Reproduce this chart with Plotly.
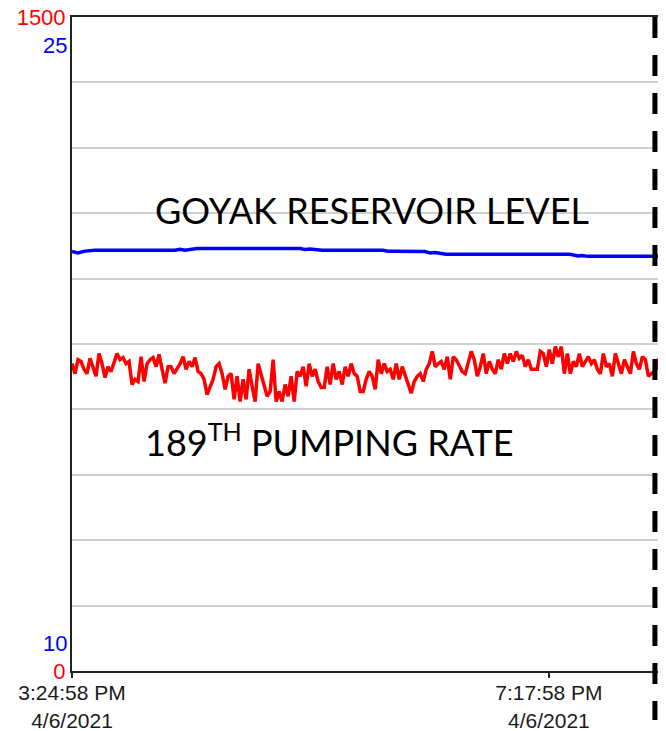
import pandas as pd
import plotly.graph_objects as go

# ---------------- data ----------------
# 189th pumping rate (left red axis, 0-1500), sampled every 88 s from 3:24:58 PM
pump_rate = [
    705, 682, 714, 710, 692, 682, 717, 698, 676, 728,
    705, 673, 698, 687, 705, 728, 714, 719, 705, 710,
    657, 669, 664, 721, 664, 705, 714, 719, 698, 726,
    692, 660, 698, 698, 682, 692, 705, 721, 692, 710,
    698, 719, 687, 682, 669, 634, 653, 669, 698, 705,
    682, 646, 676, 682, 623, 676, 618, 669, 623, 692,
    653, 618, 705, 682, 660, 630, 641, 714, 618, 641,
    618, 657, 630, 676, 618, 687, 676, 698, 653, 705,
    676, 692, 664, 650, 650, 698, 657, 705, 669, 687,
    657, 698, 676, 705, 682, 676, 641,
    641, 669, 687, 676, 646, 714, 682, 705, 687, 692,
    669, 705, 669, 698, 676, 653, 637, 664, 676, 682,
    664, 692, 705, 733, 698, 705, 710, 692, 721, 669,
    721, 714, 698, 687, 682, 705, 733, 714, 676, 698,
    728, 682, 710, 692, 682, 714, 692, 728, 705,
    728, 710, 733, 717, 724, 698, 714, 692, 692, 692,
    733, 728, 698, 737, 705, 744, 721, 744, 682, 728,
    682, 710, 698, 728, 698, 710, 721, 705, 714, 692,
    682, 728, 698, 705, 676, 728, 705, 682, 714, 698,
    682, 733, 705, 692, 721, 714, 676, 682, 687, 698,
    728, 705, 698,
]
pump_start = "2021-04-06 15:24:58"

# Goyak reservoir level (blue axis, 10-25)
level_times = [
    "2021-04-06 15:24:58", "2021-04-06 15:27:52", "2021-04-06 15:31:19",
    "2021-04-06 15:36:10", "2021-04-06 16:15:16", "2021-04-06 16:17:46",
    "2021-04-06 16:20:10", "2021-04-06 16:22:34", "2021-04-06 16:26:04",
    "2021-04-06 17:16:22", "2021-04-06 17:18:46", "2021-04-06 17:21:16",
    "2021-04-06 17:23:40", "2021-04-06 17:27:04", "2021-04-06 17:56:52",
    "2021-04-06 17:59:22", "2021-04-06 18:02:46", "2021-04-06 18:17:22",
    "2021-04-06 18:19:52", "2021-04-06 18:22:16", "2021-04-06 18:24:46",
    "2021-04-06 18:27:40", "2021-04-06 19:28:16", "2021-04-06 19:30:40",
    "2021-04-06 19:32:10", "2021-04-06 19:34:04", "2021-04-06 19:37:04",
    "2021-04-06 20:15:10",
]
level_values = [
    19.62, 19.59, 19.63, 19.65, 19.65, 19.67, 19.65, 19.66, 19.69,
    19.69, 19.67, 19.68, 19.66, 19.65, 19.65, 19.63, 19.63, 19.62,
    19.59, 19.60, 19.58, 19.56, 19.56, 19.53, 19.52, 19.53, 19.51,
    19.51,
]

x_range = ["2021-04-06 15:24:58", "2021-04-06 20:11:16"]
x_tick_vals = ["2021-04-06 15:24:58", "2021-04-06 19:17:58"]
x_tick_text = ["3:24:58 PM<br>4/6/2021", "7:17:58 PM<br>4/6/2021"]

rate_tick_vals = [0, 1500]
rate_tick_text = ["0", "1500"]
rate_grid_step = 150
rate_range = [0, 1500]
level_range = [10, 25]
level_tick_labels = ["25", "10"]

marker_time = "2021-04-06 20:09:46"

label_level = "GOYAK RESERVOIR LEVEL"
label_pump = "189<sup>TH</sup> PUMPING RATE"

# ---------------- figure ----------------
# page body adds an 8px margin; the figure is offset accordingly
FIG_W, FIG_H = 650, 723
M_L, M_R, M_T, M_B = 64, 0, 9, 60
plot_w = FIG_W - M_L - M_R
plot_h = FIG_H - M_T - M_B

pump_times = pd.date_range(pump_start, periods=len(pump_rate), freq="88s")

fig = go.Figure()
fig.add_trace(go.Scatter(
    x=pump_times, y=pump_rate, mode="lines",
    line=dict(color="#FF0000", width=3.5), yaxis="y", hoverinfo="skip",
))
fig.add_trace(go.Scatter(
    x=level_times, y=level_values, mode="lines",
    line=dict(color="#0000FF", width=3.5), yaxis="y2", hoverinfo="skip",
))

fig.add_shape(
    type="line", xref="x", yref="paper",
    x0=marker_time, x1=marker_time, y0=1, y1=-0.075,
    line=dict(color="black", width=5, dash="21px,17px"), layer="above",
)

lab_font = dict(family="Liberation Sans, Arial", size=22, color="#0000FF")
fig.add_annotation(
    x=0, xref="paper", y=level_range[1], yref="y2", text=level_tick_labels[0],
    showarrow=False, xanchor="right", yanchor="middle", xshift=-3, yshift=-28,
    font=lab_font,
)
fig.add_annotation(
    x=0, xref="paper", y=level_range[0], yref="y2", text=level_tick_labels[1],
    showarrow=False, xanchor="right", yanchor="middle", xshift=-3, yshift=28,
    font=lab_font,
)

text_font = dict(family="Lato, Carlito, Calibri", size=36, color="black")
fig.add_annotation(
    x=(364 - M_L) / plot_w, xref="paper", y=(FIG_H - M_B - 202) / plot_h, yref="paper",
    text=label_level, showarrow=False, xanchor="center", yanchor="middle",
    font=text_font,
)
fig.add_annotation(
    x=(135 - M_L) / plot_w, xref="paper", y=(FIG_H - M_B - 432) / plot_h, yref="paper",
    text=label_pump, showarrow=False, xanchor="left", yanchor="middle",
    font=text_font,
)

fig.update_layout(
    width=FIG_W, height=FIG_H,
    margin=dict(l=M_L, r=M_R, t=M_T, b=M_B, autoexpand=False),
    paper_bgcolor="white", plot_bgcolor="white",
    showlegend=False,
    xaxis=dict(
        range=x_range, tickmode="array", tickvals=x_tick_vals, ticktext=x_tick_text,
        ticks="outside", ticklen=5, tickwidth=1.5, tickcolor="#222",
        ticklabelstandoff=-3, ticklabeloverflow="allow",
        showgrid=False, zeroline=False,
        showline=True, linecolor="#222", linewidth=2, mirror=True,
        tickfont=dict(family="Liberation Sans, Arial", size=21, color="#1a1a1a"),
        automargin=False,
    ),
    yaxis=dict(
        range=rate_range, tickmode="array", tickvals=rate_tick_vals, ticktext=rate_tick_text,
        ticks="", showgrid=False, ticklabeloverflow="allow",
        minor=dict(dtick=rate_grid_step, tick0=0, showgrid=True,
                   gridcolor="#D0D0D0", gridwidth=1.5, ticks=""),
        zeroline=False, showline=True, linecolor="#222", linewidth=2,
        tickfont=dict(family="Liberation Sans, Arial", size=22, color="#FF0000"),
        automargin=False,
    ),
    yaxis2=dict(
        range=level_range, overlaying="y", side="left", showgrid=False,
        zeroline=False, showticklabels=False, ticks="", showline=False,
    ),
)

fig.write_html("out.html")
